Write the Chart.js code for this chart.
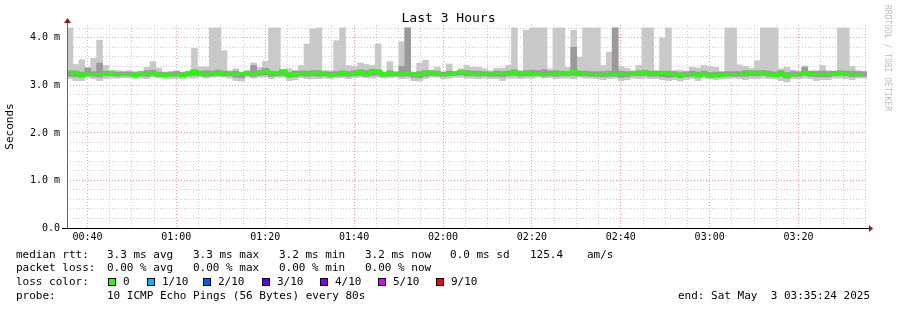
<!DOCTYPE html>
<html>
<head>
<meta charset="utf-8">
<title>Last 3 Hours</title>
<script src="https://cdn.jsdelivr.net/npm/chart.js@4.4.1/dist/chart.umd.min.js"></script>
<style>
  html, body { margin: 0; padding: 0; background: #fff; }
  #wrap { width: 897px; height: 310px; }
</style>
</head>
<body>
<div id="wrap"><canvas id="smoke" width="897" height="310"></canvas></div>
<script>
// SmokePing-style "Last 3 Hours" graph: grey smoke bands (min..max and inner
// spread per 80 s step) with the median rtt drawn as a green step line.
// All values in milliseconds, one entry per 80 s step (135 steps = 3 h).

const HI = [   // slowest ping of the step (top of the light smoke)
  4.21,3.44,3.54,3.38,3.57,3.95,3.42,3.32,3.31,3.30,3.31,3.29,3.30,3.38,3.50,3.36,3.28,3.29,3.31,3.28,3.30,3.78,3.39,3.39,4.21,4.21,3.73,
  3.31,3.35,3.28,3.31,3.47,3.38,3.51,4.21,4.21,3.28,3.35,3.31,3.42,3.87,4.19,4.21,3.31,3.31,3.94,4.21,3.42,3.40,3.47,3.44,3.42,3.87,3.28,
  3.50,3.29,3.92,4.21,3.28,3.47,3.53,3.31,3.38,3.28,3.45,3.28,3.35,3.42,3.38,3.38,3.35,3.31,3.36,3.36,3.42,4.21,3.31,4.16,4.21,4.21,4.21,
  3.35,4.21,4.21,3.38,4.16,3.59,4.21,4.21,4.21,3.42,3.70,4.21,3.40,3.36,3.31,3.42,4.21,4.21,3.31,4.00,4.21,3.31,3.32,3.28,3.38,3.36,3.42,
  3.40,3.38,3.29,4.21,4.21,3.43,3.40,3.36,3.52,4.21,4.21,4.21,3.35,3.38,3.32,3.28,3.41,3.29,3.31,3.42,3.31,3.28,4.21,4.21,3.40,3.31,3.28
];
const LO = [   // fastest ping of the step (bottom of the light smoke)
  3.14,3.10,3.10,3.17,3.14,3.10,3.14,3.15,3.15,3.16,3.16,3.14,3.15,3.14,3.17,3.16,3.14,3.14,3.14,3.14,3.15,3.15,3.17,3.15,3.17,3.18,3.17,
  3.15,3.10,3.09,3.17,3.15,3.17,3.17,3.14,3.17,3.17,3.10,3.12,3.16,3.14,3.14,3.14,3.15,3.14,3.16,3.16,3.14,3.16,3.17,3.16,3.15,3.17,3.15,
  3.16,3.17,3.14,3.15,3.10,3.09,3.14,3.17,3.17,3.14,3.15,3.17,3.17,3.15,3.15,3.14,3.15,3.14,3.14,3.10,3.15,3.15,3.14,3.15,3.15,3.17,3.15,
  3.16,3.14,3.15,3.15,3.14,3.17,3.15,3.15,3.14,3.12,3.14,3.15,3.10,3.12,3.15,3.14,3.15,3.14,3.14,3.12,3.10,3.12,3.09,3.12,3.14,3.10,3.15,
  3.14,3.12,3.14,3.14,3.15,3.14,3.12,3.14,3.14,3.15,3.14,3.14,3.10,3.07,3.14,3.14,3.15,3.14,3.10,3.12,3.12,3.15,3.15,3.14,3.12,3.15,3.15
];
const MID_HI = [   // inner spread, upper edge (darker smoke)
  3.31,3.30,3.28,3.36,3.29,3.47,3.30,3.29,3.28,3.28,3.28,3.27,3.29,3.31,3.32,3.28,3.27,3.28,3.29,3.27,3.29,3.33,3.30,3.31,3.30,3.32,3.30,
  3.29,3.30,3.27,3.30,3.42,3.31,3.36,3.30,3.29,3.33,3.27,3.30,3.30,3.30,3.31,3.31,3.29,3.28,3.29,3.31,3.29,3.31,3.33,3.31,3.34,3.33,3.27,
  3.31,3.28,3.40,4.21,3.27,3.29,3.31,3.31,3.30,3.28,3.30,3.29,3.32,3.31,3.30,3.30,3.29,3.28,3.30,3.29,3.30,3.33,3.29,3.31,3.32,3.31,3.33,
  3.30,3.31,3.30,3.29,3.80,3.30,3.30,3.29,3.29,3.29,3.30,4.21,3.30,3.29,3.29,3.31,3.32,3.30,3.30,3.30,3.30,3.29,3.27,3.29,3.30,3.28,3.30,
  3.27,3.28,3.28,3.29,3.29,3.29,3.31,3.31,3.31,3.31,3.30,3.28,3.31,3.27,3.29,3.29,3.38,3.30,3.29,3.30,3.29,3.30,3.31,3.30,3.30,3.29,3.29
];
const MID_LO = [   // inner spread, lower edge
  3.19,3.18,3.17,3.20,3.19,3.18,3.20,3.20,3.19,3.20,3.20,3.18,3.20,3.19,3.21,3.19,3.18,3.19,3.19,3.18,3.20,3.21,3.20,3.19,3.20,3.21,3.20,
  3.20,3.17,3.16,3.21,3.19,3.21,3.22,3.19,3.20,3.21,3.17,3.18,3.20,3.19,3.20,3.19,3.20,3.18,3.19,3.20,3.19,3.20,3.21,3.19,3.21,3.22,3.19,
  3.20,3.20,3.19,3.20,3.17,3.16,3.19,3.21,3.20,3.19,3.20,3.21,3.22,3.20,3.20,3.19,3.20,3.19,3.19,3.18,3.20,3.21,3.19,3.20,3.20,3.21,3.19,
  3.20,3.19,3.20,3.20,3.21,3.20,3.20,3.19,3.19,3.18,3.19,3.19,3.17,3.18,3.20,3.20,3.21,3.19,3.19,3.18,3.17,3.18,3.16,3.18,3.19,3.17,3.20,
  3.17,3.17,3.18,3.19,3.19,3.19,3.19,3.20,3.20,3.21,3.19,3.18,3.19,3.15,3.19,3.19,3.21,3.19,3.18,3.18,3.18,3.20,3.21,3.20,3.18,3.19,3.19
];
const MEDIAN = [
  3.28,3.24,3.21,3.24,3.23,3.23,3.24,3.24,3.23,3.23,3.23,3.21,3.24,3.24,3.26,3.22,3.21,3.23,3.23,3.21,3.24,3.29,3.24,3.24,3.24,3.26,3.24,
  3.24,3.23,3.24,3.26,3.23,3.26,3.31,3.26,3.24,3.30,3.21,3.24,3.24,3.24,3.26,3.26,3.24,3.22,3.23,3.26,3.23,3.24,3.28,3.23,3.28,3.29,3.22,
  3.26,3.24,3.24,3.26,3.24,3.22,3.26,3.28,3.24,3.23,3.24,3.26,3.28,3.26,3.24,3.24,3.24,3.23,3.24,3.24,3.24,3.28,3.24,3.26,3.24,3.24,3.23,
  3.24,3.24,3.26,3.24,3.30,3.24,3.24,3.23,3.23,3.23,3.24,3.23,3.24,3.23,3.24,3.26,3.28,3.24,3.24,3.26,3.24,3.23,3.21,3.23,3.23,3.21,3.24,
  3.19,3.21,3.21,3.23,3.23,3.23,3.24,3.26,3.26,3.26,3.24,3.21,3.26,3.19,3.23,3.23,3.26,3.24,3.23,3.23,3.23,3.24,3.26,3.24,3.23,3.23,3.23
];
const STEPS = MEDIAN.map((_, i) => i);          // one category per 80 s step

// Axis ticks: minutes after midnight (window 00:35:24 .. 03:35:24), and ms.
const X_TICKS = [40,45,50,55,60,65,70,75,80,85,90,95,100,105,110,115,120,125,
                 130,135,140,145,150,155,160,165,170,175,180,185,190,195,200,205,210,215];
const X_LABELS = { 40: "00:40", 60: "01:00", 80: "01:20", 100: "01:40", 120: "02:00",
                   140: "02:20", 160: "02:40", 180: "03:00", 200: "03:20" };
const Y_TICKS = [0,0.2,0.4,0.6,0.8,1,1.2,1.4,1.6,1.8,2,2.2,2.4,2.6,2.8,3,3.2,3.4,3.6,3.8,4,4.2];
const Y_LABELS = ["0.0", "1.0 m", "2.0 m", "3.0 m", "4.0 m"];

const LOSS_LABELS = ["0", "1/10", "2/10", "3/10", "4/10", "5/10", "9/10"];
const LOSS_COLORS = ["#26ff00", "#00b8ff", "#0059ff", "#5e00ff", "#7e00ff", "#dd00ff", "#ff0000"];

const MONO = "'DejaVu Sans Mono', 'Liberation Mono', monospace";
const MAJOR = "rgba(255,130,130,0.8)";
const MINOR = "rgba(195,195,195,0.8)";
const isMajorY = (v) => Math.abs(v - Math.round(v)) < 1e-6;

// Axis arrows, legend block and the rrdtool credit, drawn over the chart.
const decor = {
  id: "decor",
  afterDraw(chart) {
    const { ctx, chartArea: a } = chart;
    ctx.save();
    // y axis + arrow
    ctx.strokeStyle = "#666"; ctx.lineWidth = 1;
    ctx.beginPath(); ctx.moveTo(a.left + 0.5, a.bottom); ctx.lineTo(a.left + 0.5, a.top - 3); ctx.stroke();
    ctx.fillStyle = "#8b1c1c";
    ctx.beginPath(); ctx.moveTo(a.left - 3, a.top - 2); ctx.lineTo(a.left + 4, a.top - 2); ctx.lineTo(a.left + 0.5, a.top - 7); ctx.fill();
    // x axis + arrow
    ctx.strokeStyle = "#000";
    ctx.beginPath(); ctx.moveTo(a.left - 5, a.bottom + 0.5); ctx.lineTo(a.right + 2, a.bottom + 0.5); ctx.stroke();
    ctx.fillStyle = "#8b1c1c";
    ctx.beginPath(); ctx.moveTo(a.right + 2, a.bottom - 3); ctx.lineTo(a.right + 2, a.bottom + 4); ctx.lineTo(a.right + 6, a.bottom + 0.5); ctx.fill();

    // legend rows
    ctx.font = "11px " + MONO; ctx.fillStyle = "#000"; ctx.textBaseline = "middle";
    const put = (x, y, t) => ctx.fillText(t, x, y);
    put(16, 255, "median rtt:");  put(107, 255, "3.3 ms avg"); put(193, 255, "3.3 ms max");
    put(279, 255, "3.2 ms min");  put(365, 255, "3.2 ms now"); put(450, 255, "0.0 ms sd");
    put(530, 255, "125.4");       put(587, 255, "am/s");
    put(16, 268, "packet loss:"); put(107, 268, "0.00 % avg"); put(193, 268, "0.00 % max");
    put(279, 268, "0.00 % min");  put(365, 268, "0.00 % now");
    put(16, 282, "loss color:");
    const boxX = [108, 147, 203, 262, 320, 378, 436];
    LOSS_LABELS.forEach((lab, i) => {
      ctx.fillStyle = LOSS_COLORS[i]; ctx.fillRect(boxX[i], 278, 7, 7);
      ctx.strokeStyle = "#000"; ctx.strokeRect(boxX[i] + 0.5, 278.5, 7, 7);
      ctx.fillStyle = "#000"; put(boxX[i] + 15, 282, lab);
    });
    put(16, 296, "probe:");
    put(107, 296, "10 ICMP Echo Pings (56 Bytes) every 80s");
    put(678, 296, "end: Sat May  3 03:35:24 2025");

    // vertical credit on the right edge
    ctx.font = "8px " + MONO; ctx.fillStyle = "#bdbdbd";
    ctx.translate(887, 5); ctx.rotate(Math.PI / 2);
    ctx.fillText("RRDTOOL / TOBI OETIKER", 0, 0);
    ctx.restore();
  }
};

const bar = { barPercentage: 1, categoryPercentage: 1, borderWidth: 0, grouped: false, xAxisID: "x", yAxisID: "y" };

new Chart(document.getElementById("smoke"), {
  type: "bar",
  data: {
    labels: STEPS,
    datasets: [
      { type: "line", label: "median rtt", data: MEDIAN, borderColor: "#22ff00", borderWidth: 3,
        pointRadius: 0, stepped: "middle", order: 0, xAxisID: "x", yAxisID: "y" },
      { ...bar, label: "smoke inner", data: MID_LO.map((v, i) => [v, MID_HI[i]]),
        backgroundColor: "#9a9a9a", order: 1 },
      { ...bar, label: "smoke", data: LO.map((v, i) => [v, HI[i]]),
        backgroundColor: "#c9c9c9", order: 2 },
    ]
  },
  options: {
    responsive: false,
    animation: false,
    layout: { padding: { left: 0, right: 0, top: 0, bottom: 66 } },
    plugins: {
      legend: { display: false },
      tooltip: { enabled: false },
      title: {
        display: true, text: "Last 3 Hours", color: "#000",
        font: { family: MONO, size: 13, weight: "normal", lineHeight: 1 },
        padding: { top: 12, bottom: 0 }
      }
    },
    scales: {
      x: { display: false, offset: true },
      xt: {
        type: "linear", position: "bottom", min: 35.4, max: 215.4, offset: false,
        afterBuildTicks(s) { s.ticks = X_TICKS.map((v) => ({ value: v })); },
        afterFit(s) { s.height = 16; },
        ticks: {
          autoSkip: false, maxRotation: 0, padding: 3, color: "#000",
          font: { family: MONO, size: 10 },
          callback: (v) => X_LABELS[v] || ""
        },
        grid: { offset: false, drawTicks: false, color: (c) => (c.tick && c.tick.value % 20 === 0 ? MAJOR : MINOR) },
        border: { display: false, dash: [1, 2] }
      },
      y: {
        min: 0, max: 4.27,
        afterBuildTicks(s) { s.ticks = Y_TICKS.map((v) => ({ value: v })); },
        afterFit(s) { s.width = 67; },
        ticks: {
          autoSkip: false, padding: 7, color: "#000", font: { family: MONO, size: 10 },
          callback: (v) => (isMajorY(v) ? Y_LABELS[Math.round(v)] : "")
        },
        grid: { drawTicks: false, color: (c) => (c.tick && isMajorY(c.tick.value) ? MAJOR : MINOR) },
        border: { display: false, dash: [1, 2] },
        title: { display: true, text: "Seconds", color: "#000", font: { family: MONO, size: 11 }, padding: { top: 4, bottom: 0 } }
      },
      yr: {
        position: "right", display: true,
        afterFit(s) { s.width = 30; },
        ticks: { display: false }, grid: { display: false }, border: { display: false }
      }
    }
  },
  plugins: [decor]
});
</script>
</body>
</html>
